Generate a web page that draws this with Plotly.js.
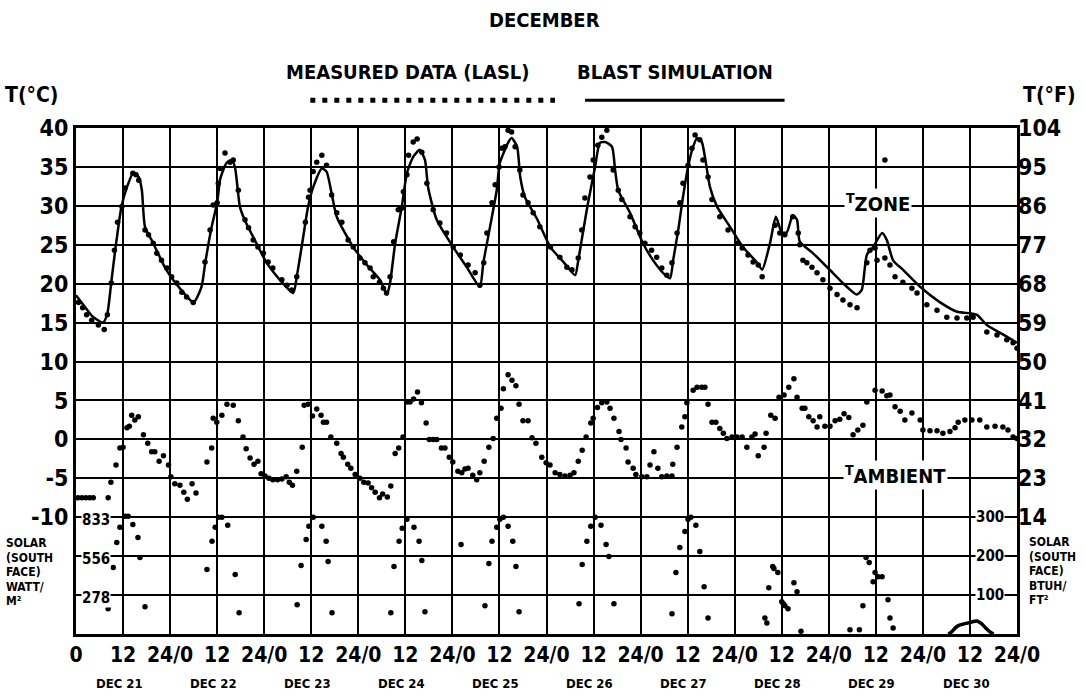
<!DOCTYPE html>
<html>
<head>
<meta charset="utf-8">
<script src="https://cdn.plot.ly/plotly-3.0.1.min.js"></script>
<style>html,body{margin:0;padding:0;background:#fff;}#chart{width:1085px;height:698px;}</style>
</head>
<body>
<div id="chart"></div>
<script>
// ---------- DATA ----------
// hours from Dec 21 00:00
const simHours = [0,2,4,6.9,8,9,10,11.6,13,14.6,16,16.8,17.6,19.7,23,26.5,30,32,33,34.6,36,36.8,38.4,39.8,40.6,41.8,43,46,48.6,52,55.4,56.3,57.7,59.2,60.5,62.7,63.9,65.2,66.5,70.7,74.2,77.5,79.3,80.1,81.4,83.1,84.4,86,87.7,89,89.8,92,96.2,99.7,103,103.9,105.6,107.3,108.1,110.3,111.1,112.5,113.3,114.5,117.5,121,124.3,127.3,128.1,129.4,130.6,132.4,133.6,135,136.7,137.5,138.3,141.3,144.6,147.2,149.7,151.5,152.3,153.6,154.8,156.1,157.4,158.4,159.6,160.4,161.7,163.5,166.8,170.1,173.7,175,177,178.5,180,181.3,182.8,183.9,184.6,188,193,196.6,199.1,200.4,201.7,203.3,205.6,206.8,208.4,210.9,215.3,220.4,224.7,228,229.8,232.3,237.4,240];
const simZoneC = [18.5,17.2,15.9,15.0,16.2,20.2,24.3,29.9,32.4,34.2,33.7,32.0,27.3,25.2,21.8,19.4,17.6,19.6,22.8,27.3,30.4,33.5,35.5,35.9,34.8,29.9,28.2,25.2,22.7,20.5,18.8,20.9,25.2,29.9,32.4,34.8,34.4,31.6,28.6,24.7,22.4,20.5,18.6,20.1,25.2,29.9,34.2,36.3,37.2,35.9,32.4,28.2,24.7,22.1,19.6,22.7,27.3,32.0,35.5,38.2,38.7,37.6,33.7,31.1,28.4,24.7,22.8,21.1,23.0,26.9,30.4,35.0,38.1,38.2,37.6,34.6,32.0,29.1,25.2,23.0,21.4,20.7,23.0,26.9,31.1,35.0,37.6,38.7,38.2,36.3,32.4,29.9,27.3,24.7,22.7,21.8,25.2,28.6,26.6,26.6,28.8,28.2,25.4,23.9,21.4,19.6,18.6,19.2,23.7,24.7,26.5,25.6,23.0,21.8,19.6,17.6,16.4,16.2,16.0,14.7,13.2,12.4];

const measZoneHours = [0.6,1.7,2.7,4,5.7,7.2,8,9,9.8,10.6,11.7,12.5,14.5,15.3,16,17.6,18.5,19.7,20.6,21.8,23.2,24.4,25.7,27,28.2,29.9,
32.9,34.2,35,36,36.3,36.8,38,39.3,40.1,41.4,43.1,44,45.2,46.4,47.8,49,50.2,52.5,53.8,55,
56.3,58.5,59.3,59.7,60.5,61.4,62.7,63.9,65.2,66.5,67.8,69.4,70.7,72.4,73.7,75,75.8,77.4,78.4,79.2,
80.1,81,82.2,83,83.5,84.4,84.8,86,87,88.2,89.5,91.1,92.8,94.5,96.2,98,100,101.8,103,
104,104.8,106.1,106.9,107.9,108.6,109.4,110.2,111.1,112,113.2,114,115.3,116.6,118.3,121,123.4,125.2,126.5,
128.1,129,129.8,131.1,131.9,133.1,134.1,135.4,137,138.3,139.2,141.3,142.6,143.8,145.1,146.8,148.1,149.4,150.7,
152,153.3,154,154.8,156.1,157.1,157.9,159.1,159.9,161.2,162.2,164.2,166.3,168.6,169.9,171.4,172.7,174,175,
178.3,179.5,180.8,182.8,184.2,184.6,185.4,186.4,187.7,189,190.5,192.3,194.1,195.6,197.4,199.2,
201.7,202.5,203.8,204.3,206.3,207.6,208.9,210.9,213.2,214.5,217,219.6,222.1,224.7,227.2,228.8,232.3,234.9,237.4,239,240,206.3];
const measZoneC = [17.6,16.9,16.0,15.3,14.7,14.1,16.0,20.1,24.3,27.9,29.9,32.3,34.2,34.0,33.3,26.9,26.3,25.2,23.9,23.0,22.0,20.9,20.1,18.9,18.3,17.6,
22.8,26.9,30.1,30.4,32.9,34.8,36.8,35.6,35.9,32.0,28.2,27.2,25.6,24.7,23.9,22.8,22.0,20.5,19.8,19.2,
20.9,27.9,31.1,32.0,34.4,35.6,36.5,35.2,31.4,29.1,27.9,25.6,24.7,23.3,22.7,22.0,20.9,20.2,19.4,18.8,
20.9,25.4,29.5,29.7,31.8,34.0,36.5,38.2,38.6,36.9,32.9,29.5,27.8,26.5,24.7,23.7,22.4,21.4,19.8,
22.7,26.5,30.4,32.7,35.0,37.4,37.6,39.7,39.5,37.6,34.6,31.4,30.4,29.1,27.3,24.7,23.4,22.1,21.8,
23.3,26.9,31.0,33.7,35.9,37.8,38.8,39.7,34.6,32.0,30.8,28.6,27.3,26.5,25.2,24.3,23.4,22.0,21.1,
22.7,26.5,30.4,32.9,35.2,37.4,39.1,38.5,35.9,33.7,30.8,28.6,26.9,25.2,24.6,23.7,22.8,22.4,20.9,
27.5,26.5,26.3,28.6,26.5,25.0,23.0,22.7,22.1,21.4,20.5,19.4,18.6,17.9,17.3,16.9,
22.7,24.3,24.6,23.0,23.3,22.4,20.9,20.2,19.4,18.8,17.3,16.6,15.7,15.6,15.6,15.7,13.8,13.4,12.8,12.4,11.7,35.9];

const ambHours = [0.5,1.5,2.5,3.5,4.4,8.2,8.9,10.2,11.2,12,13,13.6,14.2,15,15.9,17.2,18.3,19.3,20.1,21.2,22.3,23.6,24.2,25.2,26.5,27.5,28.4,29.6,30.6,
33.4,34.6,35,35.9,37.2,38.5,40.1,41.4,42.6,43.4,44.4,45.4,46.4,47.2,48.2,49.2,50.2,51.4,52.5,53.6,54.4,55.2,
56.3,57.7,58.2,59.2,60.3,61.4,62.5,63.1,63.9,65,66.5,67.6,68.2,69.3,70.1,71.2,72.4,73.4,74.5,75.4,76.3,77.4,78.2,79.4,
80.3,81.4,82.3,83.4,84.4,85.2,86.1,87.1,88.1,89.3,90.1,91.1,92,93.2,94.1,95.2,96.1,97.4,98.4,99.2,100,101.2,102.2,103,
104.1,105.3,106.4,107.3,108.4,109,110.2,111.2,112.2,113,114,115.3,116.3,117.3,118.8,119.9,120.9,122.2,123.4,124.7,126,127,
128.1,129.1,130.1,131.3,131.9,133,134.1,135.4,136.2,137.2,138.5,139,140.3,140.8,142.1,142.8,144.3,145.6,146.4,147.4,148.4,149.4,150.7,152,
152.2,153.3,154.5,155.3,155.8,157.4,158.4,159.6,160.4,161.2,162.2,163.2,164.2,165.1,166,167.3,168.6,169.9,171.1,172.4,173.2,174,175.5,
176,177.2,178.3,179.3,180.6,181.8,183.1,183.9,185.2,185.9,186.9,188,189,189.7,191,192.3,193.6,194.8,195.9,197.1,198.2,199.4,
200.7,201.7,203.8,205.6,206.8,207.6,208.9,210.2,211.4,213.2,215.3,216,217.8,219.6,221.1,222.9,224.2,225,226.7,228.5,230.5,232.3,234.4,236.4,237.7,239,240];
const ambC = [-7.5,-7.5,-7.5,-7.5,-7.5,-7.5,-5.5,-3.3,-1.1,-1.0,1.5,1.7,3.1,2.5,2.9,0.6,-0.5,-1.6,-1.6,-2.8,-2.1,-3.3,-4.8,-5.7,-5.9,-6.8,-7.7,-5.7,-6.9,
-2.9,-1.1,2.7,2.2,3.1,4.5,4.4,2.4,0.3,-1.2,-2.4,-3.2,-2.8,-4.4,-4.7,-5.0,-5.2,-5.2,-5.1,-4.8,-5.5,-5.9,
-4.1,-1.0,4.4,4.5,3.0,3.9,3.1,2.2,2.2,0.3,-0.5,-1.8,-2.3,-3.2,-3.7,-4.5,-5.0,-5.5,-5.6,-6.2,-6.8,-7.5,-7.0,-7.4,
-6.0,-1.8,-1.1,0.3,4.8,4.8,5.2,6.1,4.7,2.1,0.0,0.0,0.0,-1.1,-1.1,-2.3,-2.9,-4.1,-4.3,-3.8,-3.7,-4.6,-5.2,-4.3,
-2.8,-1.0,0.1,2.7,4.0,6.5,8.3,7.6,6.9,4.5,2.4,2.4,0.2,-0.5,-2.3,-3.0,-3.3,-4.3,-4.5,-4.7,-4.6,-4.3,
-2.8,-1.4,0.3,2.1,2.7,4.1,4.7,4.8,4.0,2.7,1.0,0.0,-1.1,-2.9,-3.7,-4.5,-4.8,-4.8,-3.3,-1.6,-3.7,-4.8,-4.7,-4.7,
-3.2,-1.0,1.6,2.9,4.7,6.3,6.7,6.7,6.7,4.5,2.2,2.2,1.4,0.8,0.1,0.3,0.3,0.3,-1.0,0.3,0.7,-2.1,-1.0,
0.8,3.1,2.7,5.4,5.7,6.7,7.8,5.4,4.0,4.0,2.9,2.4,1.6,2.9,1.7,1.7,2.4,2.6,3.3,2.8,0.6,1.2,
1.8,4.8,6.3,6.2,5.6,5.7,4.2,3.6,2.5,3.4,2.5,1.2,1.1,1.1,0.8,1.0,1.5,2.2,2.5,2.5,2.5,1.6,1.7,1.6,1.2,0.3,0.1];

// solar on south face, W/m^2
const solarHours = [8.2,9.5,10.4,11.2,12.5,13.3,14.5,15.8,16.3,17.6,
33.4,34.7,35.5,36.3,37.2,38.7,40.6,41.6,
56.4,57.4,58.7,59.4,60.5,62.7,63.8,64.3,65.3,
80.3,81.1,82.4,83.2,84.4,86.2,87.5,88.2,89,98.2,
104.3,105.3,106.1,107.3,108.1,109,110.2,111.4,112.2,113,
128.3,129.1,130.3,131.3,132.4,133.9,135.2,135.9,137.2,
152,153,154,155.3,156.1,156.8,158.1,159.1,160.2,161.2,
175.7,176.2,176.7,177.7,178,179,180,180.4,180.8,181.6,183.1,183.9,184.9,
197.4,199.8,200.7,201.5,202.3,203.3,203.8,204.6,205.6,207.1,207.6,208.4];
const solarW = [180,474,653,761,840,840,782,689,546,194,
460,661,761,833,833,776,424,151,
208,488,675,768,833,768,661,517,151,
151,481,661,754,818,761,661,524,158,639,
201,503,661,761,818,833,768,661,481,158,
215,495,661,768,833,776,639,553,215,
144,438,617,732,818,833,776,589,337,115,
115,79,330,481,467,438,230,215,201,180,366,302,20,
30,30,201,546,510,373,438,409,409,244,115,43];
const solarLineHours = [222.5,223.5,224.5,225.5,226.5,227.5,228.5,229.8,231,232,233.2,234];
const solarLineW = [0,20,50,65,72,79,86,93,72,43,14,0];

// axis ticks
const hourTicks = [0,12,24,36,48,60,72,84,96,108,120,132,144,156,168,180,192,204,216,228,240];
const hourLabels = ['0','12','24/0','12','24/0','12','24/0','12','24/0','12','24/0','12','24/0','12','24/0','12','24/0','12','24/0','12','24/0'];
const tempCTicks = [-10,-5,0,5,10,15,20,25,30,35,40];
const tempCLabels = ['-10','-5','0','5','10','15','20','25','30','35','40'];
const tempCExtraGrid = [-25,-20,-15];
const tempFTicks = [14,23,32,41,50,59,68,77,86,95,104];
const solarWTicks = [277.67,555.33,833];
const solarWLabels = ['278','556','833'];
const solarBTicks = [100,200,300];
const solarBLabels = ['100','200','300'];
const dayLabels = ['DEC 21','DEC 22','DEC 23','DEC 24','DEC 25','DEC 26','DEC 27','DEC 28','DEC 29','DEC 30'];
const dayNoon = [12,36,60,84,108,132,156,180,204,228];

// ---------- CHART ----------
const FONT = 'DejaVu Sans Condensed, Liberation Sans Narrow, sans-serif';
const mk = {color:'#000', size:5.5};

const traces = [
  {x: simHours, y: simZoneC, mode:'lines', line:{color:'#000', width:2.5, shape:'spline', smoothing:0.6}, hoverinfo:'skip'},
  {x: measZoneHours, y: measZoneC, mode:'markers', marker:mk, hoverinfo:'skip'},
  {x: ambHours, y: ambC, mode:'markers', marker:mk, hoverinfo:'skip'},
  {x: solarHours, y: solarW, yaxis:'y3', mode:'markers', marker:mk, hoverinfo:'skip'},
  {x: solarLineHours, y: solarLineW, yaxis:'y3', mode:'lines', line:{color:'#000', width:3.5, shape:'spline'}, hoverinfo:'skip'},
  {x: [0,240], y: [14,104], yaxis:'y2', mode:'markers', marker:{opacity:0}, hoverinfo:'skip'}
];

const ann = [];
const bold = (s) => ({family: FONT, size: s, color: '#000', weight: 'bold'});
const P = (o) => Object.assign({showarrow:false, xanchor:'center', yanchor:'middle'}, o);
ann.push(P({xref:'paper', yref:'paper', x:0.498, y:1.213, text:'DECEMBER', font:bold(20)}));
ann.push(P({xref:'paper', yref:'paper', x:0.353, y:1.111, text:'MEASURED DATA (LASL)', font:bold(20)}));
ann.push(P({xref:'paper', yref:'paper', x:0.637, y:1.111, text:'BLAST SIMULATION', font:bold(20)}));
ann.push(P({xref:'paper', yref:'paper', x:-0.047, y:1.065, text:'T(°C)', font:bold(21)}));
ann.push(P({xref:'paper', yref:'paper', x:1.035, y:1.065, text:'T(°F)', font:bold(21)}));
dayLabels.forEach((d,i) => ann.push(P({xref:'x', yref:'paper', x:dayNoon[i]-1, y:-0.097, text:d, font:bold(13)})));
solarWLabels.forEach((t,i) => ann.push(P({xref:'paper', yref:'y3', x:0.005, xanchor:'left', y:solarWTicks[i], yshift:-3, text:t, bgcolor:'#fff', borderpad:0, font:bold(15)})));
solarBLabels.forEach((t,i) => ann.push(P({xref:'paper', yref:'y4', x:0.987, xanchor:'right', y:solarBTicks[i], text:t, bgcolor:'#fff', borderpad:0, font:bold(15)})));
const solarL = ['SOLAR','(SOUTH','FACE)','WATT/','M²'];
const solarR = ['SOLAR','(SOUTH','FACE)','BTUH/','FT²'];
solarL.forEach((t,i) => ann.push(P({xref:'paper', yref:'paper', x:-0.076, xanchor:'left', y:(634-543-14.5*i)/506, text:t, font:bold(12)})));
solarR.forEach((t,i) => ann.push(P({xref:'paper', yref:'paper', x:1.011, xanchor:'left', y:(634-542-14.5*i)/506, text:t, font:bold(12)})));
ann.push(P({xref:'x', yref:'y', x:204.5, y:30, text:'<sup>T</sup>ZONE', bgcolor:'#fff', borderpad:1, yshift:3, font:bold(20)}));
ann.push(P({xref:'x', yref:'y', x:208.9, y:-5, text:'<sup>T</sup>AMBIENT', bgcolor:'#fff', borderpad:1, yshift:3, font:bold(20)}));

const shapes = [
  {type:'line', xref:'paper', yref:'paper', x0:0.249, x1:0.509, y0:1.055, y1:1.055, line:{color:'#000', width:5, dash:'5px,7px'}},
  {type:'line', xref:'paper', yref:'paper', x0:0.541, x1:0.753, y0:1.055, y1:1.055, line:{color:'#000', width:3}}
];

const layout = {
  width:1085, height:698,
  margin:{l:76, r:68, t:128, b:64},
  paper_bgcolor:'#fff', plot_bgcolor:'#fff',
  showlegend:false,
  font:{family:FONT, color:'#000'},
  xaxis:{range:[0,240], tickvals:hourTicks, ticktext:hourLabels, showgrid:true, gridcolor:'#000', gridwidth:2,
         zeroline:false, showline:true, linecolor:'#000', linewidth:3, mirror:true, ticks:'', tickfont:bold(21), fixedrange:true},
  yaxis:{range:[-25,40], tickvals:tempCTicks, ticktext:tempCLabels, showgrid:true, gridcolor:'#000', gridwidth:2,
         minor:{tickvals:tempCExtraGrid, showgrid:true, gridcolor:'#000', gridwidth:2, ticks:''},
         zeroline:false, showline:true, linecolor:'#000', linewidth:3, mirror:true, ticks:'', tickfont:bold(23), fixedrange:true},
  yaxis2:{overlaying:'y', side:'right', range:[-13,104], tickvals:tempFTicks, showgrid:false, zeroline:false, showline:false, ticks:'', tickfont:bold(23), fixedrange:true},
  yaxis3:{overlaying:'y', range:[0,3609.67], visible:false, fixedrange:true},
  yaxis4:{overlaying:'y', range:[0,1300], visible:false, fixedrange:true},
  annotations:ann,
  shapes:shapes
};

Plotly.newPlot('chart', traces, layout, {staticPlot:true, displayModeBar:false});
</script>
</body>
</html>
